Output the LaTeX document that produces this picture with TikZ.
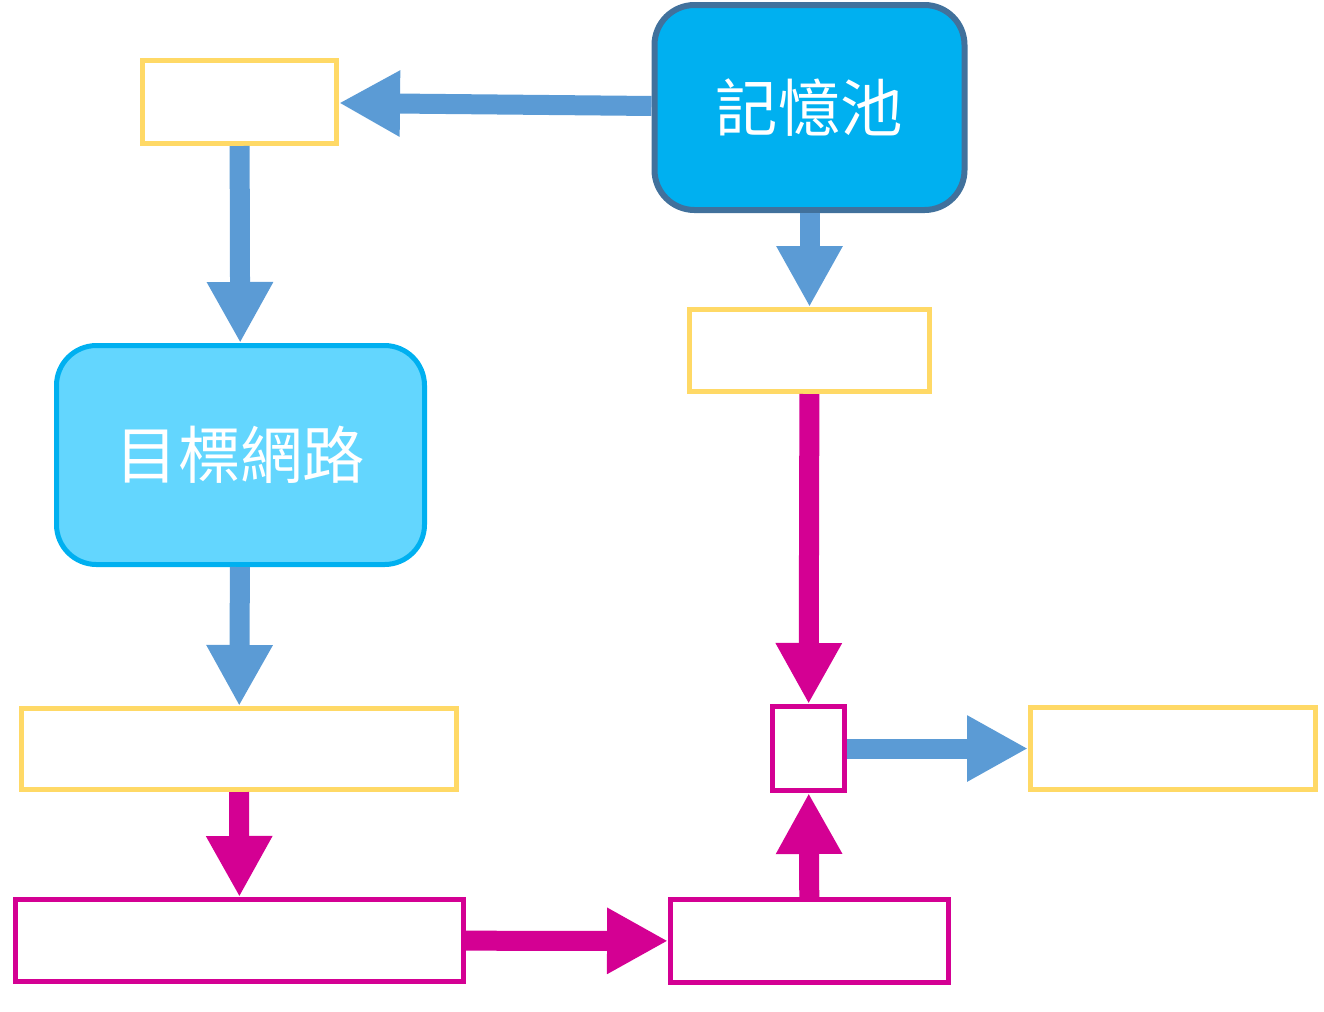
\documentclass[tikz,border=0pt]{standalone}
\usepackage{xcolor}
\usepackage{tikz}
\usepackage{fontspec}
\newfontfamily\cjk{Noto Sans CJK TC}
\usetikzlibrary{arrows.meta,calc}
\definecolor{flowblue}{HTML}{5B9BD5}
\definecolor{flowpink}{HTML}{D40093}
\definecolor{boxyellow}{HTML}{FFD966}
\definecolor{poolfill}{HTML}{00B0F0}
\definecolor{poolline}{HTML}{41719C}
\definecolor{netfill}{HTML}{63D6FE}
\tikzset{
  fat/.style={line width=0.4cm, -{Triangle[width=1.24cm, length=1.22cm]}},
  ybox/.style={draw=boxyellow, line width=0.1cm, fill=white},
  pbox/.style={draw=flowpink, line width=0.1cm, fill=white},
  label/.style={text=white, font=\cjk\fontsize{35.5}{42}\selectfont}
}

\begin{document}
\begin{tikzpicture}
    \useasboundingbox (0, 0) rectangle (26.48, -20.22);
    \coordinate (c1) at (16.19, -2.15);
    \coordinate (c2) at (4.79, -2.04);
    \coordinate (c3) at (4.81, -9.10);
    \coordinate (c4) at (4.78, -14.98);
    \coordinate (c5) at (4.79, -18.81);
    \coordinate (c6) at (16.19, -18.82);
    \coordinate (c7) at (16.19, -7.01);
    \coordinate (c8) at (16.17, -14.97);
    \coordinate (c9) at (23.46, -14.97);
    \node[label, draw=poolline, fill=poolfill, line width=0.12cm, rounded corners=0.8cm,
      minimum width=6.2cm, minimum height=4.1cm] (pool) at (c1) {記憶池};
    \node[ybox, minimum width=3.88cm, minimum height=1.66cm] (batch) at (c2) {};
    \node[label, draw=poolfill, fill=netfill, line width=0.1cm, rounded corners=0.8cm,
      minimum width=7.36cm, minimum height=4.38cm] (target) at (c3) {目標網路};
    \node[ybox, minimum width=8.7cm, minimum height=1.62cm] (qnext) at (c4) {};
    \node[pbox, minimum width=8.96cm, minimum height=1.64cm] (ytarget) at (c5) {};
    \node[pbox, minimum width=5.56cm, minimum height=1.66cm] (qpred) at (c6) {};
    \node[ybox, minimum width=4.8cm, minimum height=1.64cm] (state) at (c7) {};
    \node[pbox, minimum width=1.44cm, minimum height=1.68cm] (loss) at (c8) {};
    \node[ybox, minimum width=5.7cm, minimum height=1.64cm] (update) at (c9) {};
    \draw[fat, flowblue] (pool) -- (batch);
    \draw[fat, flowblue] (batch) -- (target);
    \draw[fat, flowblue] (target) -- (qnext);
    \draw[fat, flowpink] (qnext) -- (ytarget);
    \draw[fat, flowpink] (ytarget) -- (qpred);
    \draw[fat, flowpink] (qpred) -- (loss);
    \draw[fat, flowblue] (pool) -- (state);
    \draw[fat, flowpink] (state) -- (loss);
    \draw[fat, flowblue] (loss) -- (update);
  \end{tikzpicture}
\end{document}
